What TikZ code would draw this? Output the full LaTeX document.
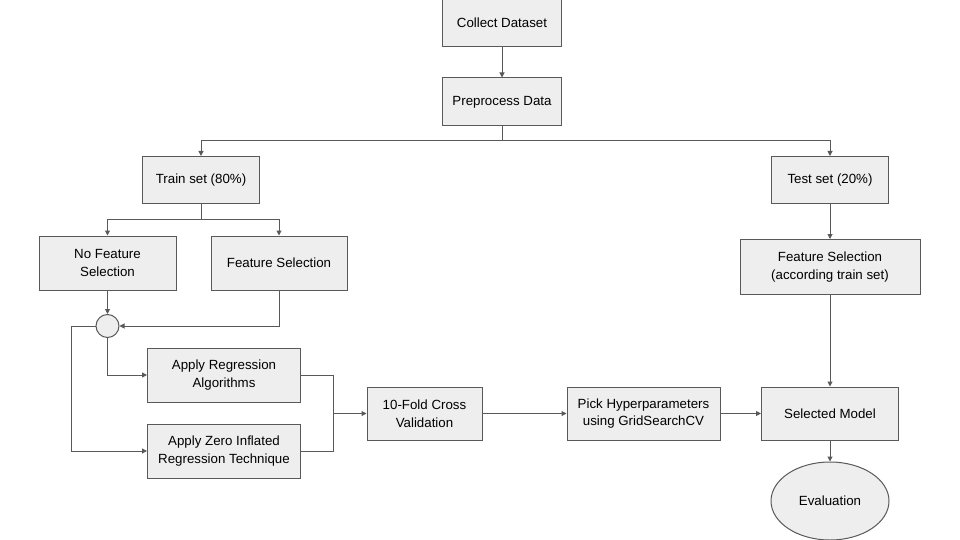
\documentclass[tikz,border=0pt]{standalone}
\usepackage{fontspec}
\setmainfont{Liberation Sans}
\usetikzlibrary{arrows.meta,shapes.geometric}

\definecolor{boxfill}{HTML}{EEEEEE}
\definecolor{boxline}{HTML}{595959}

\tikzset{
  stepbox/.style={draw=boxline, fill=boxfill, line width=1pt, align=center,
    font=\fontsize{13.3}{17.5}\selectfont, inner sep=0pt},
  link/.style={draw=boxline, line width=1pt, -{Triangle[length=5pt,width=5pt]}},
  plainlink/.style={draw=boxline, line width=1pt},
}

\begin{document}
\begin{tikzpicture}[x=1pt, y=-1pt]

\useasboundingbox (0,0) rectangle (960,540);

\node[stepbox, minimum width=119, minimum height=47] (collect) at (502,23) {Collect Dataset};
\node[stepbox, minimum width=119, minimum height=48] (preprocess) at (502,102) {Preprocess Data};

\node[stepbox, minimum width=117, minimum height=47] (train) at (201,180) {Train set (80\%)};
\node[stepbox, minimum width=117, minimum height=47] (test) at (830,180) {Test set (20\%)};

\node[stepbox, minimum width=137, minimum height=54] (nofs) at (107.5,263) {No Feature\\Selection};
\node[stepbox, minimum width=136, minimum height=54] (fs) at (279,263) {Feature Selection};
\node[stepbox, minimum width=180, minimum height=55] (testfs) at (830,267) {Feature Selection\\(according train set)};

\node[stepbox, circle, minimum size=23] (merge) at (107.5,326) {};

\node[stepbox, minimum width=153, minimum height=54] (applyreg) at (224,375) {Apply Regression\\Algorithms};
\node[stepbox, minimum width=153, minimum height=54] (applyzero) at (224,451) {Apply Zero Inflated\\Regression Technique};

\node[stepbox, minimum width=115, minimum height=53] (tenfold) at (424.5,413.5) {10-Fold Cross\\Validation};
\node[stepbox, minimum width=153, minimum height=53] (pick) at (643.5,413.5) {Pick Hyperparameters\\using GridSearchCV};
\node[stepbox, minimum width=137, minimum height=53] (selected) at (830,413.5) {Selected Model};
\node[stepbox, ellipse, minimum width=118, minimum height=78] (eval) at (830,501) {Evaluation};

\coordinate (split) at (502,141);
\coordinate (trainsplit) at (201,219);
\coordinate (join) at (333,413.5);
\coordinate (back) at (71,326);

\draw[link] (collect) -- (preprocess);
\draw[link] (preprocess.south) -- (split) -| (train.north);
\draw[link] (split) -| (test.north);

\draw[link] (train.south) -- (trainsplit) -| (nofs.north);
\draw[link] (trainsplit) -| (fs.north);
\draw[link] (test) -- (testfs);

\draw[link] (nofs.south) -- (merge.north);
\draw[link] (fs.south) |- (merge.east);
\draw[link] (merge.south) |- (applyreg.west);
\draw[link] (merge.west) -- (back) |- (applyzero.west);

\draw[plainlink] (applyreg.east) -| (join);
\draw[plainlink] (applyzero.east) -| (join);
\draw[link] (join) -- (tenfold.west);

\draw[link] (tenfold) -- (pick);
\draw[link] (pick) -- (selected);
\draw[link] (testfs.south) -- (selected.north);
\draw[link] (selected) -- (eval);

\end{tikzpicture}
\end{document}
